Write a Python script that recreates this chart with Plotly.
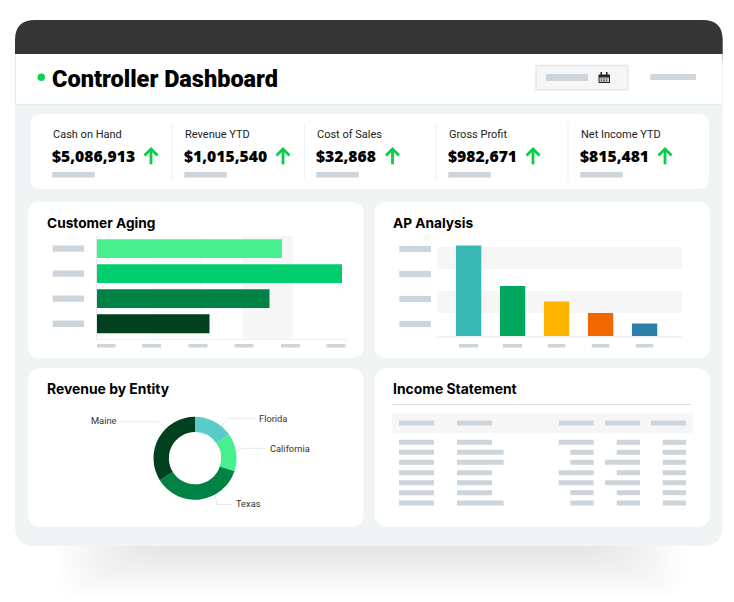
import plotly.graph_objects as go

W = 734
H = 602

# KPI row
kpi_labels = ["Cash on Hand", "Revenue YTD", "Cost of Sales", "Gross Profit", "Net Income YTD"]
kpi_values = ["$5,086,913", "$1,015,540", "$32,868", "$982,671", "$815,481"]
kpi_arrow_x = [151, 283, 392.5, 533, 665]

# Customer Aging
aging_cats = ["a", "b", "c", "d"]
aging_vals = [185, 245, 172.5, 112.5]
aging_colors = ["#47EF8F", "#00CE6E", "#008244", "#00401E"]
aging_ticks = [9, 54.5, 101, 147, 193.5, 239]

# AP Analysis
ap_cats = ["a", "b", "c", "d", "e"]
ap_vals = [90.5, 50, 34.5, 23, 12.5]
ap_colors = ["#37B6B4", "#00A85D", "#FFB500", "#F26700", "#2B7FA8"]
ap_y_ticks = [87, 62, 37, 12]

# Revenue by Entity
entity_labels = ["Florida", "California", "Texas", "Maine"]
entity_vals = [15.3, 14.8, 36, 33.9]
entity_colors = ["#59CBC8", "#47EF8F", "#008244", "#00401E"]

# Income Statement placeholders, width of each cell in text units
table_col2 = [3, 4, 4, 3, 3, 3, 4]
table_col3 = [3, 2, 2, 3, 3, 2, 2]
table_col4 = [2, 2, 3, 2, 3, 2, 2]
table_col5 = [2, 2, 2, 2, 2, 2, 2]

GREY = "#CDD5DB"
TITLE_FONT = "Inter"
HEAD_FONT = "Roboto"
LABEL_FONT = "Roboto"
VALUE_FONT = "Open Sans"


def px(x):
    return x / W


def py(y):
    return 1 - y / H


def rr_path(x0, y0, x1, y1, rt=0, rb=0):
    # rounded rectangle, pixel coords to paper coords
    pts = [
        f"M {px(x0 + rt)} {py(y0)}",
        f"L {px(x1 - rt)} {py(y0)}",
        f"Q {px(x1)} {py(y0)} {px(x1)} {py(y0 + rt)}",
        f"L {px(x1)} {py(y1 - rb)}",
        f"Q {px(x1)} {py(y1)} {px(x1 - rb)} {py(y1)}",
        f"L {px(x0 + rb)} {py(y1)}",
        f"Q {px(x0)} {py(y1)} {px(x0)} {py(y1 - rb)}",
        f"L {px(x0)} {py(y0 + rt)}",
        f"Q {px(x0)} {py(y0)} {px(x0 + rt)} {py(y0)}",
        "Z",
    ]
    return " ".join(pts)


shapes = []


def add_round(x0, y0, x1, y1, fill, rt=0, rb=0, line=None, lw=0, opacity=1):
    shapes.append(dict(
        type="path", xref="paper", yref="paper", path=rr_path(x0, y0, x1, y1, rt, rb),
        fillcolor=fill, line=dict(color=line or "rgba(0,0,0,0)", width=lw),
        layer="below", opacity=opacity,
    ))


def add_rect(x0, y0, x1, y1, fill=GREY):
    shapes.append(dict(
        type="rect", xref="paper", yref="paper", x0=px(x0), x1=px(x1), y0=py(y0), y1=py(y1),
        fillcolor=fill, line=dict(width=0), layer="below",
    ))


def add_line(points, color, width=1, layer="below"):
    d = "M " + " L ".join(f"{px(x)} {py(y)}" for x, y in points)
    shapes.append(dict(
        type="path", xref="paper", yref="paper", path=d, fillcolor="rgba(0,0,0,0)",
        line=dict(color=color, width=width), layer=layer,
    ))


# soft shadow under the frame
for i in range(26):
    add_round(54 + i * 3.6, 530, 688 - i * 3.6, 598 - i * 2.0, "#000000", 0, 26, opacity=0.0034)

# frame
add_round(15, 20, 722.7, 546, "#F1F4F5", 20, 20)
add_round(15, 20, 722.7, 60, "#353535", 20, 0)
add_rect(15, 54, 722.7, 105, "#E8ECEF")
add_rect(16, 54, 722, 104, "#FFFFFF")

# header
shapes.append(dict(type="circle", xref="paper", yref="paper",
                   x0=px(37.6), x1=px(45), y0=py(73.6), y1=py(81),
                   fillcolor="#00D84C", line=dict(width=0)))
add_round(536, 65.5, 627.7, 89.7, "#F6F6F6", 0, 0, "#E3E8EB", 1.5)
add_rect(546, 74, 588, 81)
add_rect(650.3, 74, 696, 80, "#D0D7DC")
# calendar icon
add_rect(598.5, 74.5, 610, 83, "#222222")
add_rect(599.5, 77.5, 609, 82, "#D8D8D8")
add_rect(600.5, 72, 602, 75.5, "#222222")
add_rect(606, 72, 607.5, 75.5, "#222222")
for cx in (600.8, 603.3, 605.8):
    for cy in (78.4, 80.3):
        add_rect(cx, cy, cx + 1.5, cy + 1.1, "#333333")

# KPI card
add_round(30.7, 114, 709, 189, "#FFFFFF", 10, 10)
for x in (172.3, 304.3, 436, 568):
    add_rect(x - 0.5, 123, x + 0.5, 180, "#EEF0F2")
for i in range(len(kpi_labels)):
    add_rect(52.3 + i * 132, 172, 94.7 + i * 132, 177.5)
for ax in kpi_arrow_x:
    add_line([(ax, 164.3), (ax, 149)], "#07CE46", 2.8, "above")
    add_line([(ax - 6.5, 155.5), (ax, 149), (ax + 6.5, 155.5)], "#07CE46", 2.8, "above")

# panels
add_round(27.7, 202, 363.5, 358, "#FFFFFF", 12, 12)
add_round(374.7, 202, 710, 358, "#FFFFFF", 12, 12)
add_round(27.7, 368, 363.5, 527, "#FFFFFF", 14, 14)
add_round(374.7, 368, 710, 527, "#FFFFFF", 14, 14)

# Customer Aging bands and placeholders
ax_left, ax_right, ax_top, ax_bottom = 97, 348, 236, 339.3
shapes.append(dict(type="rect", xref="x", yref="paper", x0=54.3, x1=104.7, y0=py(ax_top), y1=py(ax_bottom),
                   fillcolor="#FAFAFA", line=dict(width=0), layer="below"))
shapes.append(dict(type="rect", xref="x", yref="paper", x0=145.7, x1=195.7, y0=py(ax_top), y1=py(ax_bottom),
                   fillcolor="#F6F6F6", line=dict(width=0), layer="below"))
for i in range(len(aging_cats)):
    shapes.append(dict(type="rect", xref="paper", yref="y", x0=px(52.7), x1=px(84), y0=i - 0.125, y1=i + 0.125,
                       fillcolor=GREY, line=dict(width=0), layer="below"))
for t in aging_ticks:
    shapes.append(dict(type="rect", xref="x", yref="paper", x0=t - 9.5, x1=t + 9.5, y0=py(344), y1=py(347.5),
                       fillcolor=GREY, line=dict(width=0), layer="below"))

# AP bands and placeholders
shapes.append(dict(type="rect", xref="paper", yref="y2", x0=px(437.3), x1=px(682), y0=67, y1=89,
                   fillcolor="#F6F6F6", line=dict(width=0), layer="below"))
shapes.append(dict(type="rect", xref="paper", yref="y2", x0=px(437.3), x1=px(682), y0=23, y1=45,
                   fillcolor="#F6F6F6", line=dict(width=0), layer="below"))
add_rect(437.3, 336, 682, 337.5, "#EFF1F2")
for t in ap_y_ticks:
    shapes.append(dict(type="rect", xref="paper", yref="y2", x0=px(399.3), x1=px(431), y0=t - 3.1, y1=t + 3.1,
                       fillcolor=GREY, line=dict(width=0), layer="below"))
for i in range(len(ap_cats)):
    half = 0.22 if i in (0, 1) else 0.2
    shapes.append(dict(type="rect", xref="x2", yref="paper", x0=i - half, x1=i + half, y0=py(344), y1=py(347.5),
                       fillcolor=GREY, line=dict(width=0), layer="below"))

# Income Statement table
add_rect(392.7, 403.9, 690.7, 404.9, "#D8DFE3")
add_rect(392.3, 412.7, 693, 433.3, "#F6F6F6")
for x0, x1 in ((399, 434), (457, 492), (559, 593.7), (605, 640), (651, 686)):
    add_rect(x0, 420.5, x1, 425.5)
unit = 35 / 3
row_y = [442.3, 452.3, 462.3, 472.7, 482.7, 492.7, 503]
for i, y in enumerate(row_y):
    add_rect(399, y - 2.5, 434, y + 2.5)
    add_rect(457, y - 2.5, 457 + table_col2[i] * unit, y + 2.5)
    add_rect(593.7 - table_col3[i] * unit, y - 2.5, 593.7, y + 2.5)
    add_rect(640 - table_col4[i] * unit, y - 2.5, 640, y + 2.5)
    add_rect(686 - table_col5[i] * unit, y - 2.5, 686, y + 2.5)

# donut leader lines
leader = "#E4E9EC"
add_line([(121, 421.7), (158.5, 421.7), (165, 427.5)], leader)
add_line([(255, 418.3), (228.5, 418.3), (220, 427)], leader)
add_line([(265, 448.3), (241.5, 448.3), (236.5, 452.5)], leader)
add_line([(232, 504.5), (217, 504.5), (215, 496)], leader)

fig = go.Figure()

fig.add_trace(go.Bar(
    x=aging_vals, y=list(range(len(aging_cats))), orientation="h", width=0.75,
    marker=dict(color=aging_colors, line=dict(width=0)),
    xaxis="x", yaxis="y", showlegend=False, hoverinfo="skip",
))
fig.add_trace(go.Bar(
    x=list(range(len(ap_cats))), y=ap_vals, width=25.3 / 44,
    marker=dict(color=ap_colors, line=dict(width=0)),
    xaxis="x2", yaxis="y2", showlegend=False, hoverinfo="skip",
))
fig.add_trace(go.Pie(
    labels=entity_labels, values=entity_vals, hole=0.63, sort=False, direction="clockwise", rotation=0,
    marker=dict(colors=entity_colors, line=dict(width=0)), textinfo="none", showlegend=False, hoverinfo="skip",
    domain=dict(x=[px(153.5), px(236.5)], y=[py(499.7), py(416.7)]),
))


def text(x, y, s, size, family, color="#000000", weight=400, anchor="left"):
    return dict(x=px(x), y=py(y), xref="paper", yref="paper", text=s, showarrow=False, xanchor=anchor, yanchor="middle",
                font=dict(size=size, family=family, color=color, weight=weight), borderpad=0, borderwidth=0)


annotations = [
    text(52.2, 78.5, "Controller Dashboard", 23.5, HEAD_FONT, weight=900),
    text(46.8, 223, "Customer Aging", 13.7, TITLE_FONT, weight=700),
    text(393, 223, "AP Analysis", 13.7, TITLE_FONT, weight=700),
    text(46.8, 388.7, "Revenue by Entity", 13.9, TITLE_FONT, weight=700),
    text(393, 388.7, "Income Statement", 13.9, TITLE_FONT, weight=700),
]
for i in range(len(kpi_labels)):
    annotations.append(text(53 + i * 132 - (0.3 if i else 0), 134, kpi_labels[i], 11, LABEL_FONT, "#222222"))
    annotations.append(text(52 + i * 132, 156, kpi_values[i], 15.7, VALUE_FONT, weight=800))

donut_label_pos = [(259.3, 418.5, "left"), (269.7, 448.5, "left"), (236, 503.7, "left"), (117, 420, "right")]
for lab, (x, y, a) in zip(entity_labels, donut_label_pos):
    annotations.append(text(x, y, lab, 9.3, LABEL_FONT, "#333333", anchor=a))

fig.update_layout(
    width=W, height=H, margin=dict(l=0, r=0, t=0, b=0, pad=0), autosize=False,
    paper_bgcolor="#FFFFFF", plot_bgcolor="rgba(0,0,0,0)", shapes=shapes, annotations=annotations,
    xaxis=dict(domain=[px(ax_left), px(ax_right)], range=[0, 251], showgrid=False, zeroline=False,
               showticklabels=False, showline=True, linecolor="#EEF0F2", linewidth=1, anchor="y", fixedrange=True),
    yaxis=dict(domain=[py(ax_bottom), py(ax_top)], range=[3.62, -0.5], showgrid=False, zeroline=False,
               showticklabels=False, showline=True, linecolor="#E5E8EA", linewidth=1, anchor="x", fixedrange=True),
    xaxis2=dict(domain=[px(437.3), px(682)], range=[(437.3 - 468.6) / 44, (682 - 468.6) / 44], showgrid=False,
                zeroline=False, showticklabels=False, showline=False, anchor="y2", fixedrange=True),
    yaxis2=dict(domain=[py(336), py(240)], range=[0, 96], showgrid=False, zeroline=False, showticklabels=False,
                showline=False, anchor="x2", fixedrange=True),
)

fig.write_html("out.html", config=dict(displayModeBar=False),
               post_script="document.body.style.margin='0';document.body.style.overflow='hidden';")
